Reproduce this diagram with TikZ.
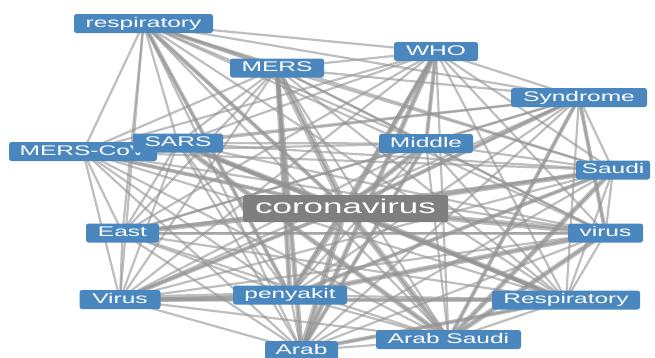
\documentclass[tikz,border=0pt]{standalone}
\usepackage{fontspec}
\usepackage{graphicx}
\setmainfont{Liberation Sans}
\usetikzlibrary{backgrounds}
\definecolor{nodeblue}{HTML}{4A87BF}
\definecolor{hubgray}{HTML}{7F7F7F}
\definecolor{edgegray}{HTML}{939393}
\newcommand{\wt}[1]{\scalebox{1.75}[1]{#1}}
\tikzset{
  lab/.style={fill=nodeblue, rounded corners=2.5pt, text=white,
    font=\fontsize{14}{14}\selectfont, inner xsep=0pt, inner ysep=0pt,
    text height=10pt, text depth=3pt, minimum height=19pt},
  hub/.style={fill=hubgray, rounded corners=1.5pt, text=white,
    font=\fontsize{20}{20}\selectfont, inner sep=0pt,
    text height=13pt, text depth=3pt, minimum height=27pt, minimum width=205pt},
  link/.style={draw=edgegray, draw opacity=0.6, line width=2.2pt},
}
\begin{document}
\begin{tikzpicture}[x=1pt,y=-1pt]
\useasboundingbox (0,0) rectangle (655,357);
\clip (0,0) rectangle (655,357);
% nodes
\node[lab, minimum width=139pt] (resp) at (143.5,23.5) {\wt{respiratory}};
\node[lab, minimum width=94pt] (mers) at (277,68) {\wt{MERS}};
\node[lab, minimum width=84pt] (who) at (436,51.5) {\wt{WHO}};
\node[lab, minimum width=136pt] (synd) at (579,97.5) {\wt{Syndrome}};
\node[lab, minimum width=148pt] (merscov) at (83,151.5) {\wt{MERS-CoV}};
\node[lab, minimum width=90pt] (sars) at (178,143) {\wt{SARS}};
\node[lab, minimum width=94pt] (middle) at (426,143.5) {\wt{Middle}};
\node[lab, minimum width=74pt] (saudi) at (613,170) {\wt{Saudi}};
\node[hub] (corona) at (345.5,208.5) {\wt{coronavirus}};
\node[lab, minimum width=73pt] (east) at (122.5,233) {\wt{East}};
\node[lab, minimum width=75pt] (virusr) at (605.5,233) {\wt{virus}};
\node[lab, minimum width=81pt] (virusl) at (120,299.5) {\wt{Virus}};
\node[lab, minimum width=114pt] (peny) at (290,295) {\wt{penyakit}};
\node[lab, minimum width=148pt] (respu) at (566,300) {\wt{Respiratory}};
\node[lab, minimum width=145pt] (arabs) at (448.5,339.5) {\wt{Arab Saudi}};
\node[lab, minimum width=73pt] (arab) at (301.5,350.5) {\wt{Arab}};
% connectors
\begin{pgfonlayer}{background}
\foreach \a [count=\i] in {resp,mers,who,synd,merscov,sars,middle,saudi,corona,east,virusr,virusl,peny,respu,arabs,arab}{
  \foreach \b [count=\j] in {resp,mers,who,synd,merscov,sars,middle,saudi,corona,east,virusr,virusl,peny,respu,arabs,arab}{
    \ifnum\j>\i
      \draw[link] (\a.center) -- (\b.center);
    \fi
  }
}
\foreach \a/\b/\w in {
  corona/resp/4, corona/mers/7, corona/who/5, corona/synd/4, corona/merscov/4,
  corona/sars/5, corona/middle/5, corona/saudi/5, corona/east/5, corona/virusr/6,
  corona/virusl/4, corona/peny/6, corona/respu/5, corona/arabs/6, corona/arab/6,
  peny/virusl/7, mers/peny/5, mers/arab/5, who/middle/4, who/arab/5,
  synd/virusr/4, synd/arabs/4, saudi/arabs/5, virusr/arabs/5, virusr/peny/5,
  saudi/peny/4, resp/peny/4, resp/mers/4, sars/arabs/5, sars/respu/4,
  middle/arab/4, east/virusr/3, virusl/respu/4, arab/respu/4}{
  \draw[link, line width=\w pt] (\a.center) -- (\b.center);
}
\end{pgfonlayer}
\end{tikzpicture}
\end{document}
